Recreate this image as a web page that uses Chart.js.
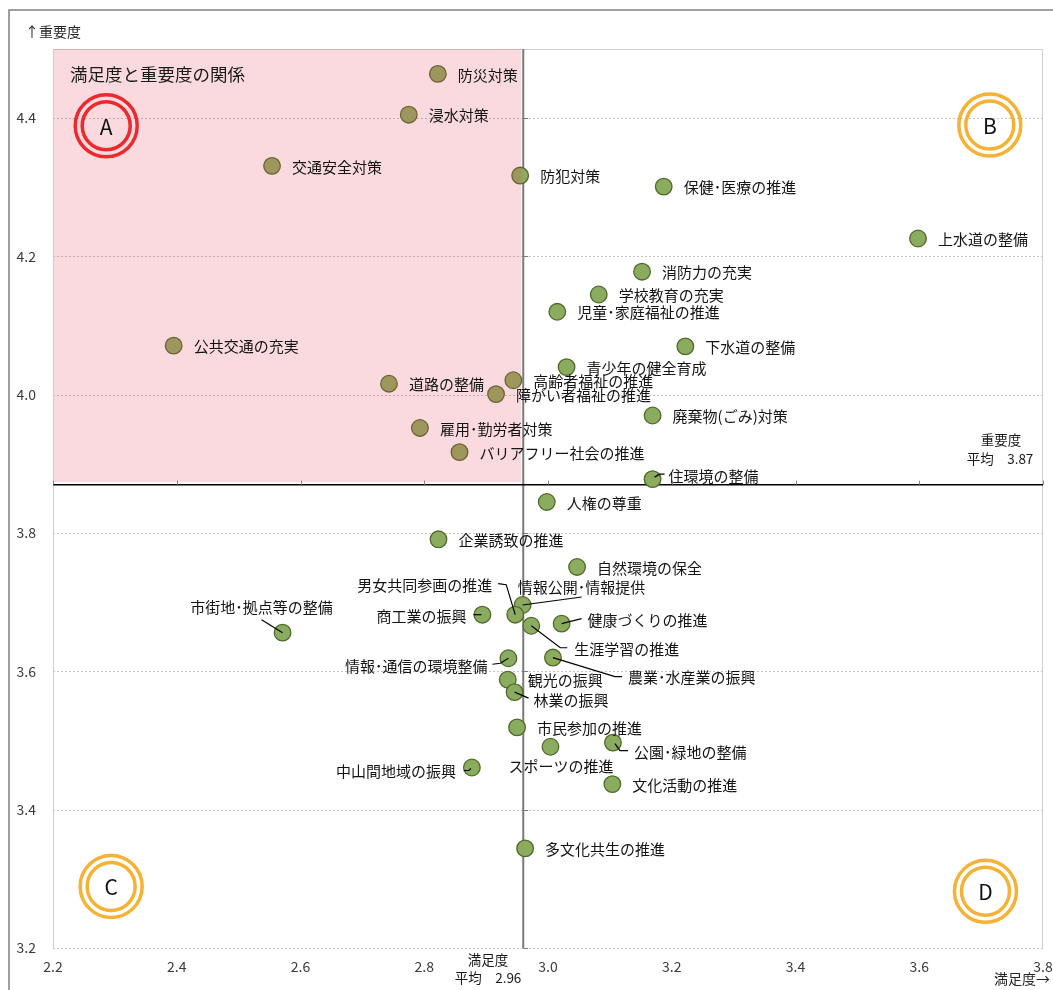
<!DOCTYPE html>
<html><head><meta charset="utf-8">
<script src="https://cdn.jsdelivr.net/npm/chart.js@4.4.1/dist/chart.umd.min.js"></script>
<style>html,body{margin:0;padding:0;background:#fff;}#wrap{width:1053px;height:990px;position:relative;}</style>
</head><body><div id="wrap"><canvas id="c" width="1053" height="990"></canvas></div>
<script>
// ---- data ----
const categories = [
  '防災対策','浸水対策','交通安全対策','防犯対策','保健･医療の推進','上水道の整備',
  '消防力の充実','学校教育の充実','児童･家庭福祉の推進','公共交通の充実','下水道の整備',
  '青少年の健全育成','高齢者福祉の推進','道路の整備','障がい者福祉の推進','廃棄物(ごみ)対策',
  '雇用･勤労者対策','バリアフリー社会の推進','住環境の整備','人権の尊重','企業誘致の推進',
  '自然環境の保全','情報公開･情報提供','男女共同参画の推進','商工業の振興','市街地･拠点等の整備',
  '健康づくりの推進','生涯学習の推進','情報･通信の環境整備','農業･水産業の振興','観光の振興',
  '林業の振興','市民参加の推進','スポーツの推進','公園･緑地の整備','中山間地域の振興',
  '文化活動の推進','多文化共生の推進'
];
const satisfaction = [
  2.822, 2.775, 2.554, 2.955, 3.187, 3.598,
  3.152, 3.082, 3.015, 2.395, 3.222,
  3.030, 2.944, 2.743, 2.916, 3.169,
  2.793, 2.857, 3.169, 2.998, 2.823,
  3.047, 2.959, 2.947, 2.894, 2.571,
  3.022, 2.973, 2.936, 3.008, 2.935,
  2.946, 2.950, 3.004, 3.105, 2.877,
  3.104, 2.963
];
const importance = [
  4.464, 4.405, 4.331, 4.317, 4.301, 4.226,
  4.178, 4.145, 4.120, 4.071, 4.070,
  4.040, 4.021, 4.016, 4.001, 3.970,
  3.952, 3.917, 3.878, 3.845, 3.791,
  3.751, 3.696, 3.682, 3.682, 3.656,
  3.669, 3.666, 3.619, 3.620, 3.588,
  3.570, 3.519, 3.491, 3.497, 3.461,
  3.437, 3.344
];
const xTickValues = [2.2, 2.4, 2.6, 2.8, 3.0, 3.2, 3.4, 3.6, 3.8];
const yTickValues = [3.2, 3.4, 3.6, 3.8, 4.0, 4.2, 4.4];
const meanSatisfaction = 2.96;
const meanImportance = 3.87;
const quadrantLetters = ['A', 'B', 'C', 'D'];
const quadrantX = [2.286, 3.714, 2.294, 3.707];
const quadrantY = [4.389, 4.390, 3.289, 3.282];

// ---- label layout (pixel offsets from the marker) ----
const labelLayout = {
  '住環境の整備': {dx: 16, dy: -4, leader: [[2,-2],[7,-5],[12,-5]]},
  '情報公開･情報提供': {dx: -5, dy: -19, leader: [[0,0],[59,-8]]},
  '男女共同参画の推進': {dx: -23, dy: -30, align: 'right', leader: [[0,0],[-9,-30],[-17,-31]]},
  '商工業の振興': {dx: -16, dy: 1, align: 'right', leader: [[-1,0],[-9,0]]},
  '市街地･拠点等の整備': {dx: -21, dy: -26, align: 'center', leader: [[0,0],[-21,-13]]},
  '健康づくりの推進': {dx: 26, dy: -4, leader: [[0,0],[20,-5]]},
  '生涯学習の推進': {dx: 43, dy: 23, leader: [[0,0],[29,22],[36,22]]},
  '情報･通信の環境整備': {dx: -21, dy: 7, align: 'right', leader: [[0,0],[-8,5],[-16,6]]},
  '農業･水産業の振興': {dx: 75, dy: 19, leader: [[0,0],[62,19],[69,19]]},
  '林業の振興': {dx: 19, dy: 7, leader: [[0,0],[14,6]]},
  'スポーツの推進': {dx: -42, dy: 19},
  '公園･緑地の整備': {dx: 21, dy: 9, leader: [[2,1],[7,8],[15,8]]},
  '中山間地域の振興': {dx: -16, dy: 3, align: 'right', leader: [[-1,1],[-3,3],[-8,3]]}
};

const FONT = '"Noto Sans CJK JP", "Noto Sans", sans-serif';

const decor = {
  id: 'decor',
  beforeDatasetsDraw(chart) {
    const {ctx, chartArea: a, scales: {x, y}} = chart;
    ctx.save();
    // outer frame
    ctx.strokeStyle = '#808080'; ctx.lineWidth = 1.5;
    ctx.beginPath(); ctx.moveTo(9, 990); ctx.lineTo(9, 10); ctx.lineTo(1053, 10); ctx.stroke();
    // dotted grid lines
    ctx.strokeStyle = '#c4c4c4'; ctx.lineWidth = 1; ctx.setLineDash([2, 2]);
    yTickValues.forEach(v => {
      const py = Math.round(y.getPixelForValue(v)) + 0.5;
      ctx.beginPath(); ctx.moveTo(a.left, py); ctx.lineTo(a.right, py); ctx.stroke();
    });
    ctx.setLineDash([]);
    // plot border (left, top, right)
    ctx.strokeStyle = '#cfcfcf';
    ctx.beginPath();
    ctx.moveTo(a.left + 0.5, a.bottom); ctx.lineTo(a.left + 0.5, a.top + 0.5);
    ctx.lineTo(a.right - 0.5, a.top + 0.5); ctx.lineTo(a.right - 0.5, a.bottom);
    ctx.stroke();
    // mean lines
    const mx = x.getPixelForValue(meanSatisfaction);
    const my = y.getPixelForValue(meanImportance);
    ctx.strokeStyle = '#7a7a7a'; ctx.lineWidth = 2;
    ctx.beginPath(); ctx.moveTo(mx, a.top); ctx.lineTo(mx, a.bottom); ctx.stroke();
    ctx.lineWidth = 1;
    yTickValues.forEach(v => {
      const py = Math.round(y.getPixelForValue(v)) + 0.5;
      ctx.beginPath(); ctx.moveTo(mx, py); ctx.lineTo(mx + 5, py); ctx.stroke();
    });
    ctx.strokeStyle = '#000'; ctx.lineWidth = 1.5;
    ctx.beginPath(); ctx.moveTo(a.left, my); ctx.lineTo(a.right, my); ctx.stroke();
    ctx.strokeStyle = '#888'; ctx.lineWidth = 1;
    xTickValues.forEach(v => {
      const px = Math.round(x.getPixelForValue(v)) + 0.5;
      ctx.beginPath(); ctx.moveTo(px, my); ctx.lineTo(px, my - 4); ctx.stroke();
    });
    ctx.restore();
  },
  afterDatasetsDraw(chart) {
    const {ctx, chartArea: a, scales: {x, y}} = chart;
    const mx = x.getPixelForValue(meanSatisfaction);
    const my = y.getPixelForValue(meanImportance);
    ctx.save();
    // pink quadrant overlay
    ctx.fillStyle = 'rgba(232,72,88,0.2)';
    ctx.fillRect(a.left + 1, a.top, mx - 2 - (a.left + 1), my - 2.5 - a.top);

    // leader lines + labels
    ctx.font = '15px ' + FONT;
    ctx.fillStyle = '#141414';
    ctx.textBaseline = 'middle';
    categories.forEach((name, i) => {
      const px = x.getPixelForValue(satisfaction[i]);
      const py = y.getPixelForValue(importance[i]);
      const L = labelLayout[name] || {};
      const dx = L.dx !== undefined ? L.dx : 20;
      const dy = L.dy || 0;
      if (L.leader) {
        ctx.strokeStyle = '#000'; ctx.lineWidth = 1.2;
        ctx.beginPath();
        L.leader.forEach((p, k) => { const fx = px + p[0], fy = py + p[1]; k ? ctx.lineTo(fx, fy) : ctx.moveTo(fx, fy); });
        ctx.stroke();
      }
      ctx.textAlign = L.align || 'left';
      ctx.fillText(name, px + dx, py + dy + 1);
    });

    // title
    ctx.textAlign = 'left';
    ctx.font = '17.5px ' + FONT;
    ctx.fillStyle = '#1a1a1a';
    ctx.fillText('満足度と重要度の関係', 70, 74);

    // quadrant rings
    quadrantLetters.forEach((L, i) => {
      const cx = x.getPixelForValue(quadrantX[i]);
      const cy = y.getPixelForValue(quadrantY[i]);
      ctx.strokeStyle = L === 'A' ? '#ea2a2e' : '#f5b235';
      ctx.lineWidth = 3.5;
      ctx.beginPath(); ctx.arc(cx, cy, 31, 0, Math.PI * 2); ctx.stroke();
      ctx.beginPath(); ctx.arc(cx, cy, 24, 0, Math.PI * 2); ctx.stroke();
      ctx.fillStyle = '#111';
      ctx.font = '21px ' + FONT;
      ctx.textAlign = 'center';
      ctx.fillText(L, cx, cy + 1);
    });

    // axis captions
    ctx.fillStyle = '#262626';
    ctx.font = '14px ' + FONT;
    ctx.textAlign = 'left';
    ctx.fillText('↑重要度', 25, 32);
    ctx.fillText('満足度→', 994, 979);

    // mean annotations
    ctx.font = '13.5px ' + FONT;
    ctx.textAlign = 'center';
    ctx.fillStyle = '#1a1a1a';
    ctx.fillText('重要度', 1001, 440);
    ctx.fillText('平均　' + meanImportance.toFixed(2), 1000, 459);
    ctx.fillText('満足度', 488, 960);
    ctx.fillText('平均　' + meanSatisfaction.toFixed(2), 488, 978);
    ctx.restore();
  }
};

const points = categories.map((c, i) => ({x: satisfaction[i], y: importance[i]}));

new Chart(document.getElementById('c'), {
  type: 'scatter',
  data: {
    labels: categories,
    datasets: [{
      data: points,
      pointRadius: 8.3,
      pointHoverRadius: 8.3,
      pointBackgroundColor: '#8bab5e',
      pointBorderColor: '#4f6a2c',
      pointBorderWidth: 1.3
    }]
  },
  options: {
    responsive: false,
    devicePixelRatio: 1,
    animation: false,
    events: [],
    layout: {padding: {top: 49, right: 0, left: 0, bottom: 0}},
    plugins: {legend: {display: false}, tooltip: {enabled: false}},
    scales: {
      x: {
        type: 'linear', min: 2.2, max: 3.8,
        afterBuildTicks: s => { s.ticks = xTickValues.map(v => ({value: v})); },
        afterFit: s => { s.height = 42; s.paddingRight = 10; s.paddingLeft = 0; },
        grid: {display: false, drawTicks: false, tickLength: 0},
        border: {display: false},
        ticks: {padding: 10, color: '#3a3a3a', font: {family: FONT, size: 14}, maxRotation: 0, autoSkip: false,
                callback: v => Number(v).toFixed(1)}
      },
      y: {
        type: 'linear', min: 3.2, max: 4.5,
        afterBuildTicks: s => { s.ticks = yTickValues.map(v => ({value: v})); },
        afterFit: s => { s.width = 53; },
        grid: {display: false, drawTicks: false, tickLength: 0},
        border: {display: false},
        ticks: {padding: 17, color: '#3a3a3a', font: {family: FONT, size: 14}, autoSkip: false,
                callback: v => Number(v).toFixed(1)}
      }
    }
  },
  plugins: [decor]
});
</script></body></html>
